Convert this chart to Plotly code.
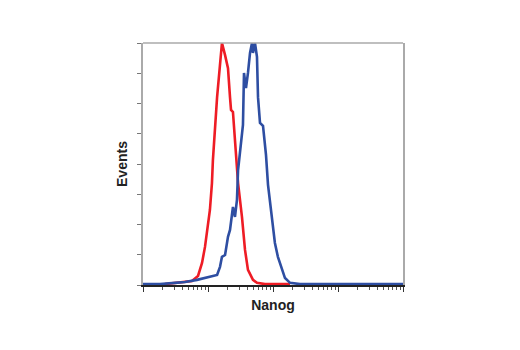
import plotly.graph_objects as go

# Red histogram (fluorescence intensity, events)
red_x = [2.18, 3.11, 4.43, 5.67, 7.02, 8.09, 8.99, 10.0, 10.7, 11.5, 11.9, 13.8, 16.4, 18.3,
         20.3, 21.8, 22.6, 24.2, 26.0, 27.9, 29.0, 33.3, 37.1, 41.2, 49.2, 56.7, 75.3, 183]
red_y = [0.03, 0.07, 0.10, 0.13, 0.30, 0.73, 1.26, 1.92, 2.48, 3.37, 4.13, 6.21, 8.0, 7.60,
         7.17, 6.21, 5.79, 5.72, 4.79, 4.20, 3.37, 2.25, 1.16, 0.50, 0.17, 0.07, 0.03, 0.03]

# Blue histogram
blue_x = [1, 1.83, 3.11, 4.43, 6.77, 10.7, 13.8, 15.3, 16.4, 18.3, 19.6, 20.3, 21.8, 23.4,
          24.2, 26.0, 27.9, 29.0, 31.1, 34.5, 35.8, 38.4, 41.2, 44.3, 47.5, 49.2, 52.8, 56.7,
          58.8, 63.1, 70.2, 78.0, 83.8, 96.5, 107, 119, 138, 153, 183, 260, 10000]
blue_y = [0.03, 0.03, 0.07, 0.10, 0.17, 0.26, 0.33, 0.60, 0.93, 0.99, 1.39, 1.59, 1.82, 2.38,
          2.58, 2.25, 2.81, 3.80, 4.46, 5.29, 7.01, 6.51, 7.01, 7.67, 8.0, 7.67, 8.0, 7.54,
          6.21, 5.36, 5.26, 4.30, 3.31, 2.25, 1.39, 0.93, 0.50, 0.23, 0.07, 0.03, 0.03]

RED = "#ee1c25"
BLUE = "#2e4ea2"
FONT = "Liberation Sans Narrow, Arial Narrow, Liberation Sans, Arial"

fig = go.Figure()
fig.add_trace(go.Scatter(x=red_x, y=red_y, mode="lines",
                         line=dict(color=RED, width=2.6), showlegend=False, cliponaxis=True))
fig.add_trace(go.Scatter(x=blue_x, y=blue_y, mode="lines",
                         line=dict(color=BLUE, width=2.6), showlegend=False, cliponaxis=True))

fig.update_layout(
    width=520, height=350,
    margin=dict(l=135, r=125, t=35, b=73, autoexpand=False),
    paper_bgcolor="white", plot_bgcolor="white",
    xaxis=dict(type="log", range=[0, 4], dtick=1, showgrid=False, zeroline=False,
               automargin=False,
               showticklabels=False, ticks="outside", ticklen=5, tickcolor="#333",
               showline=True, linecolor="#222", linewidth=1.5,
               minor=dict(ticks="outside", ticklen=3, tickcolor="#555", showgrid=False),
               title=dict(text="<b>Nanog</b>", font=dict(family=FONT, size=14, color="#222"),
                          standoff=9)),
    yaxis=dict(range=[0, 8], dtick=1, showgrid=False, zeroline=False,
               automargin=False,
               showticklabels=False, ticks="outside", ticklen=4, tickcolor="#777",
               showline=True, linecolor="#aaa", linewidth=1.5, mirror=True,
               title=dict(text="<b>Events</b>", font=dict(family=FONT, size=14, color="#222"),
                          standoff=6)),
    shapes=[dict(type="line", xref="paper", yref="paper", x0=0, x1=1, y0=1, y1=1,
                 line=dict(color="#aaa", width=1.5))],
)

fig.write_html("out.html")
